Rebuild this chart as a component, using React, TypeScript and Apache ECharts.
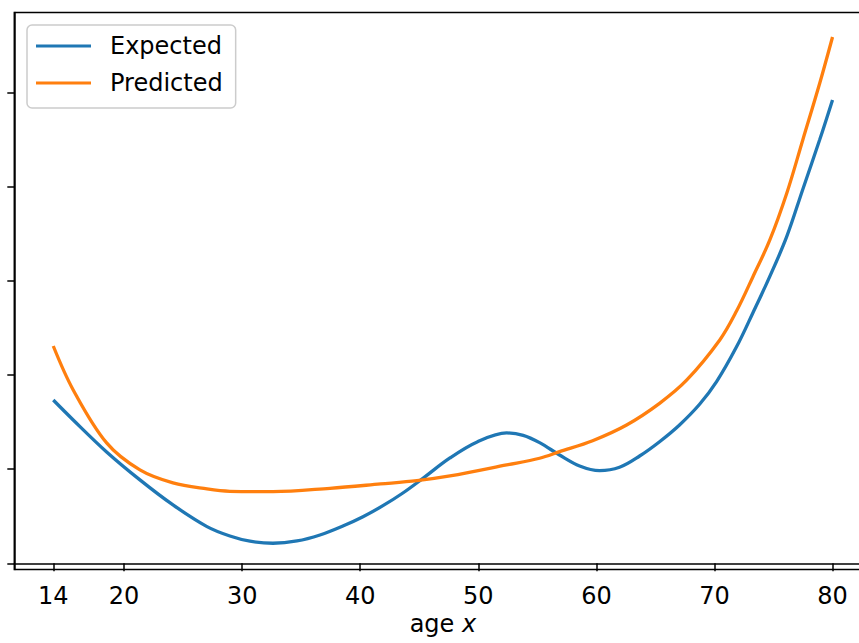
import React, { useEffect, useRef } from "react";
import * as echarts from "echarts";

const expectedAge = [14, 15.69, 18.52, 21.34, 24.14, 27.02, 28.96, 30.66, 32.61, 34.64, 36.59, 38.53, 40.23, 41.92, 43.61, 45.31, 47.6, 49.9, 52.4, 53.8, 55.19, 56.88, 58.58, 60.27, 61.96, 63.66, 65.35, 67.04, 68.74, 70.18, 71.87, 73.25, 74.67, 76.11, 77.47, 78.91, 80];
const expectedVal = [1.735, 1.523, 1.183, 0.886, 0.62, 0.39, 0.29, 0.235, 0.213, 0.237, 0.301, 0.396, 0.495, 0.612, 0.747, 0.903, 1.119, 1.289, 1.385, 1.36, 1.282, 1.151, 1.034, 0.984, 1.02, 1.14, 1.292, 1.47, 1.69, 1.93, 2.3, 2.66, 3.043, 3.468, 3.97, 4.5, 4.924];

const predictedAge = [14, 15.69, 18.52, 21.34, 24.14, 27.02, 28.96, 32.61, 37.43, 41.72, 44.8, 47.6, 52.4, 55.19, 56.88, 59.68, 62.56, 65.35, 67.66, 70.45, 71.87, 73.25, 74.69, 76.13, 77.48, 78.92, 80];
const predictedVal = [2.309, 1.842, 1.279, 0.992, 0.854, 0.79, 0.765, 0.761, 0.797, 0.843, 0.878, 0.928, 1.045, 1.116, 1.186, 1.303, 1.47, 1.7, 1.948, 2.373, 2.68, 3.043, 3.436, 3.935, 4.499, 5.104, 5.593];

const xTicks = [14, 20, 30, 40, 50, 60, 70, 80];
const yTicks = [0, 1, 2, 3, 4, 5];

const FONT = "DejaVu Sans";

export default function App() {
  const ref = useRef<HTMLDivElement>(null);
  useEffect(() => {
    if (!ref.current) return;
    const chart = echarts.init(ref.current, null, { renderer: "svg" });
    const zip = (a: number[], b: number[]) => a.map((v, i) => [v, b[i]]);
    chart.setOption({
      animation: false,
      backgroundColor: "#ffffff",
      textStyle: { fontFamily: FONT },
      grid: {
        left: 14.3,
        top: 12.5,
        right: 0.5,
        bottom: 73.5,
        show: true,
        borderColor: "#000",
        borderWidth: 1.5,
      },
      legend: {
        orient: "vertical",
        left: 27,
        top: 25,
        padding: [9, 13, 13, 9],
        itemGap: 13,
        itemWidth: 55,
        itemHeight: 3,
        borderColor: "#cccccc",
        borderWidth: 1.5,
        borderRadius: 5,
        backgroundColor: "rgba(255,255,255,0.8)",
        textStyle: {
          fontFamily: FONT,
          fontSize: 24,
          lineHeight: 24,
          color: "#000",
          padding: [0, 0, 0, 14],
        },
        data: [
          { name: "Expected", icon: "rect" },
          { name: "Predicted", icon: "rect" },
        ],
      },
      xAxis: {
        type: "value",
        min: 10.7,
        max: 83.3,
        splitLine: { show: false },
        axisLine: { lineStyle: { color: "#000", width: 1.5 } },
        axisTick: { show: true, length: 8, lineStyle: { color: "#000", width: 1.5 }, customValues: xTicks },
        axisLabel: { customValues: xTicks, fontSize: 24, color: "#000", fontFamily: FONT, margin: 14 },
        name: "age {i|x}",
        nameLocation: "middle",
        nameGap: 41,
        nameTextStyle: {
          fontSize: 24,
          color: "#000",
          fontFamily: FONT,
          rich: { i: { fontStyle: "italic", fontSize: 24, fontFamily: FONT, color: "#000" } },
        },
      },
      yAxis: {
        type: "value",
        min: -0.066,
        max: 5.853,
        splitLine: { show: false },
        axisLine: { show: true, lineStyle: { color: "#000", width: 1.5 } },
        axisTick: { show: true, length: 7, lineStyle: { color: "#000", width: 1.5 }, customValues: yTicks },
        axisLabel: { show: false },
      },
      series: [
        {
          name: "Expected",
          type: "line",
          data: zip(expectedAge, expectedVal),
          smooth: 0.35,
          showSymbol: false,
          symbol: "none",
          lineStyle: { color: "#1f77b4", width: 3.3 },
          itemStyle: { color: "#1f77b4" },
        },
        {
          name: "Predicted",
          type: "line",
          data: zip(predictedAge, predictedVal),
          smooth: 0.35,
          showSymbol: false,
          symbol: "none",
          lineStyle: { color: "#ff7f0e", width: 3.3 },
          itemStyle: { color: "#ff7f0e" },
        },
      ],
    });
    return () => chart.dispose();
  }, []);
  return (
    <div style={{ position: "fixed", left: 0, top: 0, width: 859, height: 643, overflow: "hidden", background: "#fff" }}>
      <div ref={ref} style={{ width: 872, height: 643 }} />
    </div>
  );
}
